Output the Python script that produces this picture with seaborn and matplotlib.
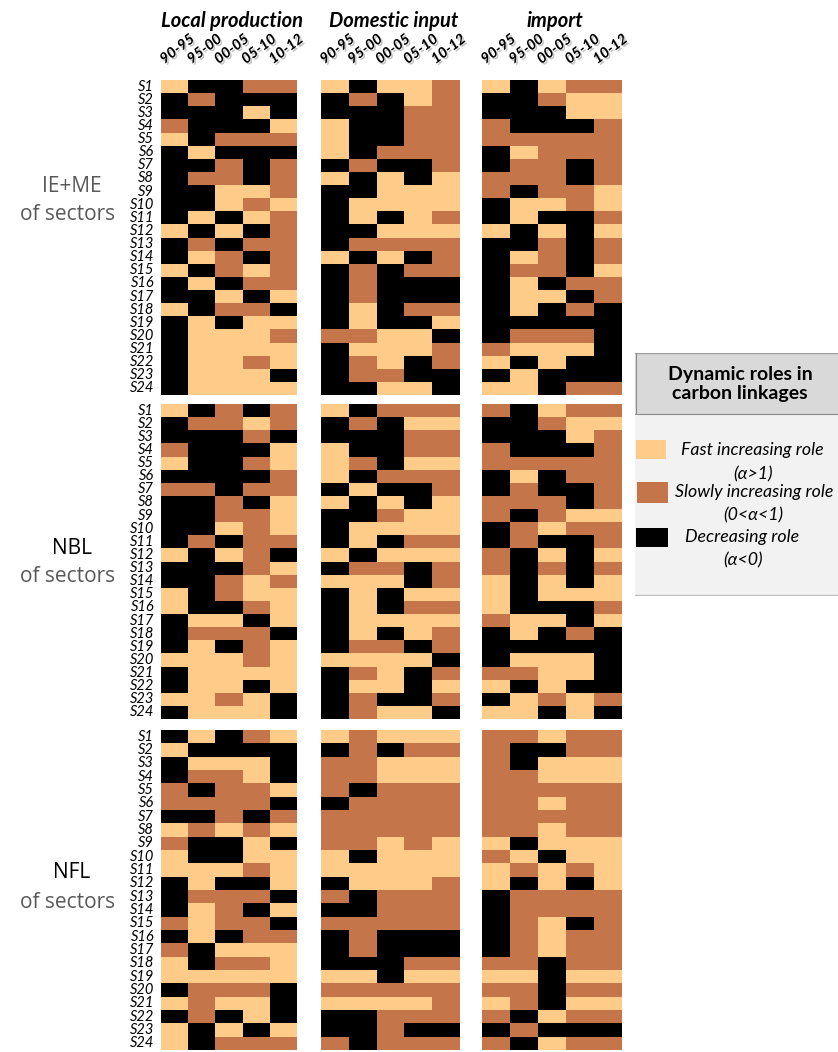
import numpy as np
import pandas as pd
import matplotlib
matplotlib.use("Agg")
import matplotlib.pyplot as plt
import matplotlib.patheffects as pe
from matplotlib.colors import ListedColormap
from matplotlib.patches import Rectangle
from matplotlib.transforms import blended_transform_factory
import seaborn as sns

# ---------------- data ----------------
# codes: 0 = fast increasing role, 1 = slowly increasing role, 2 = decreasing role
periods = ["90-95", "95-00", "00-05", "05-10", "10-12"]
sectors = [f"S{i}" for i in range(1, 25)]
column_titles = ["Local production", "Domestic input", "import"]
row_titles = [("IE+ME", "of sectors"), ("NBL", "of sectors"), ("NFL", "of sectors")]
legend_labels = [("Fast increasing role", "(\u03b1>1)"),
                 ("Slowly increasing role", "(0<\u03b1<1)"),
                 ("Decreasing role", "(\u03b1<0)")]
legend_title = "Dynamic roles in\ncarbon linkages"

iem_local = [
    [0,2,2,1,1],[2,1,2,2,2],[2,2,2,0,2],[1,2,2,2,0],[0,2,1,1,1],[2,0,2,2,2],
    [2,2,1,2,1],[2,1,1,2,1],[2,2,0,0,1],[2,2,0,1,0],[2,0,2,0,1],[0,2,0,2,1],
    [2,1,2,1,1],[2,0,1,2,1],[0,2,1,0,1],[2,0,2,1,1],[2,2,0,2,0],[0,2,1,1,2],
    [2,0,2,0,0],[2,0,0,0,1],[2,0,0,0,0],[2,0,0,1,0],[2,0,0,0,2],[2,0,0,0,0]]
iem_domestic = [
    [0,2,0,0,1],[2,1,2,0,1],[2,2,2,1,1],[0,2,2,1,1],[0,2,2,1,1],[0,2,1,1,1],
    [2,1,2,2,1],[0,2,0,2,0],[2,2,0,0,0],[2,0,0,0,0],[2,0,2,0,1],[2,2,0,0,0],
    [2,1,1,1,1],[0,2,0,2,1],[2,1,2,1,1],[2,1,2,2,2],[2,1,2,2,2],[2,0,2,1,1],
    [2,0,2,2,0],[1,1,0,0,2],[2,0,0,0,1],[2,1,0,2,1],[2,1,1,2,2],[2,2,0,0,2]]
iem_import = [
    [0,2,0,1,1],[2,2,1,0,0],[2,2,2,0,0],[1,2,2,2,1],[1,1,1,1,1],[2,0,1,1,1],
    [2,1,1,2,1],[1,1,1,2,1],[1,2,1,1,0],[2,0,0,1,0],[2,0,2,2,1],[0,2,0,2,0],
    [2,2,1,2,1],[2,0,1,2,1],[2,1,1,2,0],[2,0,2,1,1],[2,0,0,2,1],[2,0,2,1,2],
    [2,2,2,2,2],[2,1,1,1,2],[1,0,0,0,2],[0,2,0,2,2],[2,0,2,2,2],[0,0,2,1,1]]

nbl_local = [
    [0,2,1,2,1],[2,1,1,0,1],[2,2,2,1,2],[1,2,2,2,0],[0,2,2,1,0],[2,2,2,2,1],
    [1,1,2,1,1],[2,2,1,2,0],[2,2,1,1,0],[2,2,0,1,0],[2,1,2,1,1],[0,2,0,1,2],
    [2,2,2,1,0],[2,2,1,0,1],[0,2,1,0,0],[0,2,2,1,0],[2,0,0,2,0],[2,1,1,1,2],
    [2,0,2,1,0],[0,0,0,1,0],[2,0,0,0,0],[2,0,0,2,0],[0,0,1,0,2],[2,0,0,0,2]]
nbl_domestic = [
    [0,2,1,1,1],[2,1,2,0,0],[2,2,2,1,1],[0,2,2,1,1],[0,1,2,0,0],[0,2,1,1,1],
    [2,0,2,2,1],[0,2,0,2,0],[2,2,1,0,0],[2,0,0,0,0],[2,0,2,1,1],[0,2,0,0,0],
    [2,1,1,2,1],[0,0,0,2,1],[2,0,2,0,0],[2,0,2,1,1],[2,0,0,0,0],[2,0,2,0,1],
    [2,1,1,2,1],[0,0,0,0,2],[2,1,0,2,1],[2,0,0,2,0],[2,1,2,2,1],[2,1,0,0,2]]
nbl_import = [
    [1,2,0,1,1],[2,2,1,0,0],[2,2,2,0,1],[1,2,2,2,1],[1,1,1,1,1],[2,0,2,1,1],
    [2,1,2,2,1],[1,1,1,2,1],[1,2,1,0,0],[2,1,0,1,1],[2,1,2,2,1],[1,2,0,2,0],
    [1,2,1,2,1],[0,2,0,2,0],[0,2,0,0,0],[0,2,2,2,1],[1,0,0,2,0],[2,0,2,1,2],
    [2,2,2,2,2],[2,0,0,0,2],[1,1,0,0,2],[0,2,0,2,2],[2,0,1,0,1],[0,0,2,0,2]]

nfl_local = [
    [2,0,2,1,0],[0,2,2,2,2],[2,0,0,0,2],[2,1,1,0,2],[1,2,1,1,0],[1,1,1,1,2],
    [2,2,1,2,1],[0,1,0,1,0],[1,2,2,0,2],[0,2,2,0,0],[0,0,0,1,0],[2,0,2,2,0],
    [2,1,1,1,2],[2,0,1,2,0],[1,0,1,1,2],[2,0,2,1,1],[1,2,0,0,0],[0,2,1,1,0],
    [0,0,0,0,0],[2,1,1,1,2],[0,1,0,0,2],[2,1,2,0,2],[0,2,0,2,0],[0,2,1,1,1]]
nfl_domestic = [
    [0,1,0,0,0],[2,1,2,1,1],[1,1,0,0,0],[1,1,0,0,0],[1,2,1,1,1],[2,1,1,1,1],
    [1,1,1,1,1],[1,1,1,1,1],[1,1,0,1,0],[0,2,0,0,0],[0,0,0,0,0],[2,0,0,0,1],
    [1,2,1,1,1],[2,2,1,1,1],[1,1,1,1,1],[2,1,2,2,2],[2,1,2,2,2],[2,2,2,1,1],
    [0,0,2,0,0],[1,1,1,1,1],[0,0,0,0,1],[2,2,1,1,1],[2,2,1,2,2],[1,2,1,1,1]]
nfl_import = [
    [1,1,0,1,1],[1,2,2,1,1],[1,2,0,0,0],[1,1,0,0,0],[1,1,1,1,1],[1,1,0,1,1],
    [1,1,1,1,1],[1,1,0,1,1],[0,2,0,0,0],[1,0,2,0,0],[0,1,0,1,0],[0,2,0,2,0],
    [2,1,1,1,1],[2,1,1,1,1],[2,1,0,2,1],[2,1,0,1,1],[2,1,0,1,1],[1,1,2,1,1],
    [0,0,2,0,0],[1,1,2,1,1],[0,1,2,0,0],[1,2,0,1,1],[2,1,2,2,2],[1,2,0,1,1]]

panels = [[iem_local, iem_domestic, iem_import],
          [nbl_local, nbl_domestic, nbl_import],
          [nfl_local, nfl_domestic, nfl_import]]

# ---------------- style ----------------
LIGHT = "#FECB89"
BROWN = "#C5754A"
BLACK = "#000000"
cmap = ListedColormap([LIGHT, BROWN, BLACK])

sns.set_theme(style="white")
plt.rcParams["font.family"] = ["Lato", "DejaVu Sans"]

W, H = 838, 1052
fig = plt.figure(figsize=(W / 100, H / 100), dpi=100)
fig.patch.set_facecolor("white")

col_x = [(161, 297), (321, 460), (482, 622)]
row_y = [(80, 395), (404, 719), (730, 1050)]

def fax(x0, y0, x1, y1):
    return [x0 / W, 1 - y1 / H, (x1 - x0) / W, (y1 - y0) / H]

for r in range(3):
    for c in range(3):
        (x0, x1), (y0, y1) = col_x[c], row_y[r]
        ax = fig.add_axes(fax(x0, y0, x1, y1))
        df = pd.DataFrame(panels[r][c], index=sectors, columns=periods)
        sns.heatmap(df, ax=ax, cmap=cmap, vmin=-0.5, vmax=2.5, cbar=False,
                    linewidths=0, xticklabels=False,
                    yticklabels=(c == 0))
        ax.tick_params(left=False, bottom=False, length=0, pad=5)
        if c == 0:
            ax.set_yticklabels(sectors, rotation=0, fontstyle="italic",
                               fontsize=10.5, color="black")
        ax.set_xlabel("")
        ax.set_ylabel("")
        if r == 0:
            tr = blended_transform_factory(ax.transData, ax.transAxes)
            for i, lab in enumerate(periods):
                ax.text(i + 0.12, 1.05, lab, transform=tr, rotation=37,
                        rotation_mode="anchor", ha="left", va="baseline",
                        fontsize=10.5, fontweight="bold", fontstyle="italic",
                        color="black",
                        path_effects=[pe.SimplePatchShadow(offset=(1.3, -1.3),
                                                           shadow_rgbFace="#bdbdbd",
                                                           alpha=0.9),
                                      pe.Normal()])

# column titles
for c, title in enumerate(column_titles):
    xc = (col_x[c][0] + col_x[c][1]) / 2 + 3
    fig.text(xc / W, 1 - 21 / H, title, ha="center", va="center",
             fontsize=14.5, fontweight="bold", fontstyle="italic", color="black")

# row titles
row_title_y = [(186, 214), (549, 577), (873, 903)]
for r, (t1, t2) in enumerate(row_titles):
    ya, yb = row_title_y[r]
    fig.text(72 / W, 1 - ya / H, t1, ha="center", va="center", fontsize=15,
             family=["Open Sans", "DejaVu Sans"],
             color="#595959" if r == 0 else "black")
    fig.text(68 / W, 1 - yb / H, t2, ha="center", va="center", fontsize=15,
             family=["Open Sans", "DejaVu Sans"], color="#595959")

# legend box
lax = fig.add_axes(fax(635, 353, 838, 596))
lax.set_xlim(635, 838)
lax.set_ylim(596, 353)
lax.axis("off")
lax.add_patch(Rectangle((635, 353), 203, 61, facecolor="#D9D9D9",
                        edgecolor="none"))
lax.add_patch(Rectangle((635, 414), 203, 181, facecolor="#F2F2F2",
                        edgecolor="none"))
lax.plot([635, 838], [353.5, 353.5], color="#9E9E9E", lw=1)
lax.plot([635, 838], [414, 414], color="#8C8C8C", lw=0.8)
lax.plot([635.5, 635.5], [353, 414], color="#8C8C8C", lw=0.8)
lax.plot([635, 838], [595, 595], color="#BFBFBF", lw=1)
lax.text(740, 384, legend_title, ha="center", va="center", fontsize=14,
         fontweight="bold", color="black", linespacing=1.1)

sw = [(636, 440, 30, 19), (637, 482, 31, 21), (636, 528, 32, 19)]
cols = [LIGHT, BROWN, BLACK]
text_pos = [((752, 450), (753, 474)), ((754, 492), (753, 515)),
            ((742, 537), (743, 560))]
for k in range(3):
    x, y, w, h = sw[k]
    lax.add_patch(Rectangle((x, y), w, h, facecolor=cols[k], edgecolor="none"))
    (ax1, ay1), (ax2, ay2) = text_pos[k]
    lax.text(ax1, ay1, legend_labels[k][0], ha="center", va="center",
             fontsize=12.8, fontstyle="italic", color="black")
    lax.text(ax2, ay2, legend_labels[k][1], ha="center", va="center",
             fontsize=12.8, fontstyle="italic", color="black")

fig.savefig("out.png", dpi=100, facecolor="white")
